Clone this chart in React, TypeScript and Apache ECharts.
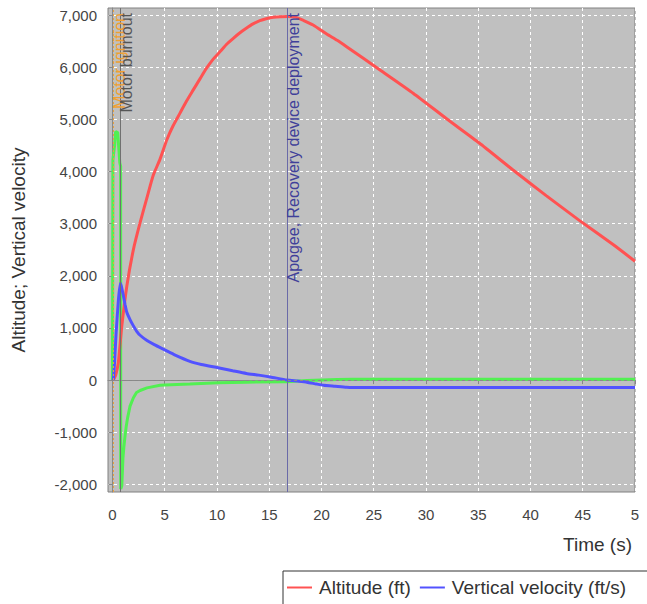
import React, { useEffect, useRef } from 'react';
import * as echarts from 'echarts';

// Time (s) / values
const altTime = [0.08, 0.3, 0.56, 0.89, 1.37, 2.0, 2.64, 3.3, 3.9, 4.55, 5.2, 5.8, 6.46, 7.1, 7.73, 8.4, 9.0, 9.6, 10.3, 10.9, 11.56, 12.2, 12.8, 13.4, 14.1, 14.7, 15.4, 16.1, 16.8, 17.5, 18.3, 19.2, 20.5, 21.5, 22.4, 25.6, 28.8, 32.0, 35.1, 38.3, 41.5, 44.7, 47.9, 50.0];
const altValue = [0, 90, 340, 1034, 1800, 2504, 3020, 3500, 3930, 4240, 4611, 4880, 5122, 5360, 5569, 5790, 5985, 6150, 6303, 6440, 6559, 6665, 6751, 6830, 6897, 6935, 6962, 6972, 6975, 6965, 6900, 6814, 6640, 6520, 6398, 5950, 5500, 5010, 4550, 4036, 3540, 3060, 2600, 2280];

const velTime = [0.08, 0.2, 0.35, 0.57, 0.75, 0.85, 1.0, 1.2, 1.37, 1.7, 2.0, 2.3, 2.64, 3.3, 4.0, 5.0, 6.0, 7.4, 8.5, 10.1, 11.5, 12.8, 14.0, 15.1, 16.7, 17.7, 18.6, 19.5, 20.2, 21.3, 22.4, 23.0, 50.0];
const velValue = [0, 350, 913, 1546, 1860, 1800, 1660, 1450, 1300, 1150, 1040, 940, 860, 760, 680, 580, 480, 360, 300, 237, 180, 128, 95, 60, 0, -20, -40, -75, -100, -120, -140, -145, -145];

const accTime = [0, 0.03, 0.04, 0.2, 0.3, 0.5, 0.7, 0.78, 0.79, 0.89, 1.0, 1.1, 1.2, 1.32, 1.45, 1.68, 2.0, 2.3, 2.64, 3.3, 4.55, 5.0, 7.4, 10.1, 12.8, 16.7, 18.6, 21.5, 23.0, 50.0];
const accValue = [0, 0, 4230, 4500, 4770, 4750, 4170, 4100, -2090, -2030, -1500, -1260, -1070, -880, -720, -500, -340, -240, -200, -150, -100, -95, -75, -50, -40, -30, -10, 10, 15, 15];

const xTicks = [0, 5, 10, 15, 20, 25, 30, 35, 40, 45, 50];
const yTicks = [-2000, -1000, 0, 1000, 2000, 3000, 4000, 5000, 6000, 7000];

const eventNames = ['Motor ignition', 'Motor burnout', 'Apogee, Recovery device deployment'];
const eventTimes = [0.08, 0.78, 16.7];

const seriesNames = ['Altitude (ft)', 'Vertical velocity (ft/s)', 'Vertical acceleration (ft/s²)'];

const zip = (t: number[], v: number[]) => t.map((x, i) => [x, v[i]]);

export default function App() {
  const ref = useRef<HTMLDivElement>(null);
  useEffect(() => {
    document.body.style.margin = '0';
    const chart = echarts.init(ref.current!, null, { renderer: 'svg' });
    const font = 'Liberation Sans, Arial, sans-serif';
    const eventStyles = [
      { line: { color: '#e8a040', type: [2, 2], width: 1 }, text: '#f0a030' },
      { line: { color: '#707070', type: 'solid', width: 1 }, text: '#555555' },
      { line: { color: '#6a6aa8', type: 'solid', width: 1 }, text: '#40409a' },
    ];
    chart.setOption({
      animation: false,
      textStyle: { fontFamily: font },
      grid: {
        left: 108,
        right: 12,
        top: 8,
        bottom: 112,
        containLabel: false,
        outerBoundsMode: 'none',
        show: true,
        backgroundColor: '#c0c0c0',
        borderColor: '#808080',
        borderWidth: 1,
      },
      legend: {
        data: [seriesNames[0], seriesNames[1]],
        left: 283,
        top: 571,
        width: 440,
        padding: [7, 60, 20, 4],
        itemGap: 9,
        itemWidth: 25,
        itemHeight: 2,
        icon: 'rect',
        borderColor: '#333333',
        borderWidth: 1,
        textStyle: { fontSize: 19, color: '#333333', fontFamily: font, padding: [0, 0, 0, 2] },
      },
      graphic: [
        {
          type: 'text',
          right: 15,
          top: 535,
          style: { text: 'Time (s)', fontSize: 19, fill: '#333333', fontFamily: font },
        },
      ],
      xAxis: {
        type: 'value',
        min: -0.43,
        max: 50,
        offset: 5,
        axisLine: { show: true, lineStyle: { color: '#888888' } },
        axisTick: { show: true, customValues: xTicks, length: 4, lineStyle: { color: '#888888' } },
        axisLabel: {
          customValues: xTicks,
          formatter: (v: number) => (v === 50 ? '5' : String(v)),
          color: '#444444',
          fontSize: 15,
          margin: 10,
          fontFamily: font,
        },
        splitLine: { show: true, lineStyle: { color: '#ffffff', type: [3, 3], width: 1 } },
      },
      yAxis: {
        type: 'value',
        min: -2148,
        max: 7140,
        offset: 5,
        name: 'Altitude; Vertical velocity',
        nameLocation: 'middle',
        nameGap: 75,
        nameTextStyle: { fontSize: 19, color: '#333333', fontFamily: font },
        axisLine: { show: true, lineStyle: { color: '#888888' } },
        axisTick: { show: true, customValues: yTicks, length: 4, lineStyle: { color: '#888888' } },
        axisLabel: {
          customValues: yTicks,
          formatter: (v: number) => v.toLocaleString('en-US'),
          color: '#444444',
          fontSize: 15,
          margin: 6,
          fontFamily: font,
        },
        splitLine: { show: true, lineStyle: { color: '#ffffff', type: [3, 3], width: 1 } },
      },
      series: [
        {
          name: seriesNames[0],
          type: 'line',
          data: zip(altTime, altValue),
          showSymbol: false,
          symbol: 'none',
          smooth: 0.2,
          color: '#ff5252',
          lineStyle: { width: 3, color: '#ff5252' },
          z: 3,
          markLine: {
            silent: true,
            symbol: 'none',
            animation: false,
            data: [
              { yAxis: 0, lineStyle: { color: '#8a8a8a', type: [3, 3], width: 1 }, label: { show: false } },
              ...eventTimes.map((t, i) => ({
                xAxis: t,
                lineStyle: eventStyles[i].line,
                label: {
                  show: true,
                  formatter: eventNames[i],
                  position: 'insideEndBottom',
                  color: eventStyles[i].text,
                  fontSize: 16,
                  fontFamily: font,
                  distance: [5, -2],
                },
              })),
            ],
          },
        },
        {
          name: seriesNames[1],
          type: 'line',
          data: zip(velTime, velValue),
          showSymbol: false,
          symbol: 'none',
          smooth: 0.2,
          color: '#5252ff',
          lineStyle: { width: 3, color: '#5252ff' },
          z: 4,
        },
        {
          name: seriesNames[2],
          type: 'line',
          data: zip(accTime, accValue),
          showSymbol: false,
          symbol: 'none',
          color: '#52f052',
          lineStyle: { width: 3, color: '#52f052' },
          z: 2,
        },
      ],
    });
    return () => chart.dispose();
  }, []);
  return <div ref={ref} style={{ width: 647, height: 604 }} />;
}
